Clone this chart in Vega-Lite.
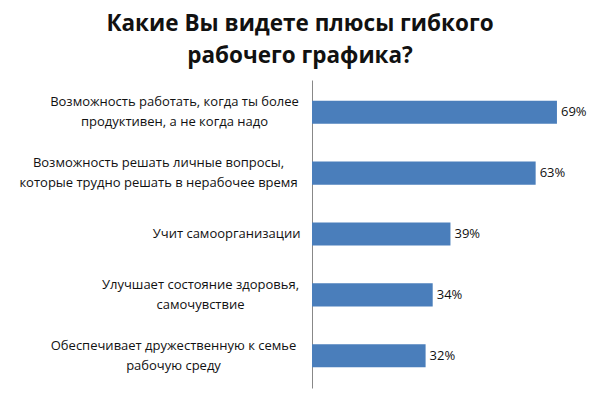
{
  "$schema": "https://vega.github.io/schema/vega-lite/v6.json",
  "width": 284,
  "height": 308,
  "autosize": "none",
  "padding": {"left": 312, "top": 80, "right": 4, "bottom": 9},
  "background": "white",
  "title": {
    "text": ["Какие Вы видете плюсы гибкого", "рабочего графика?"],
    "font": "Open Sans",
    "fontSize": 22.5,
    "fontWeight": "bold",
    "color": "#111111",
    "lineHeight": 32,
    "anchor": "middle",
    "baseline": "alphabetic",
    "dx": -154,
    "dy": 22,
    "offset": 17
  },
  "data": {
    "values": [
      {"reason": "Возможность работать, когда ты более\nпродуктивен, а не когда надо", "share": 0.69},
      {"reason": "Возможность решать личные вопросы,\nкоторые трудно решать в нерабочее время", "share": 0.63},
      {"reason": "Учит самоорганизации", "share": 0.39},
      {"reason": "Улучшает состояние здоровья,\nсамочувствие", "share": 0.34},
      {"reason": "Обеспечивает дружественную к семье\nрабочую среду", "share": 0.32}
    ]
  },
  "encoding": {
    "y": {
      "field": "reason",
      "type": "nominal",
      "sort": null,
      "scale": {"paddingInner": 0.62, "paddingOuter": 0.34},
      "axis": {
        "title": null,
        "domain": true,
        "domainColor": "#888888",
        "ticks": false,
        "grid": false,
        "labelFont": "Open Sans",
        "labelFontSize": 13,
        "labelColor": "#111111",
        "labelLineHeight": 20,
        "labelLimit": 0,
        "labelBaseline": "middle",
        "labelExpr": "split(datum.label, '\\n')",
        "labelAlign": {"expr": "indexof(datum.value, '\\n') >= 0 ? 'center' : 'right'"},
        "labelOffset": {"expr": "indexof(datum.value, '\\n') >= 0 ? -10 : 0"},
        "labelPadding": {"expr": "indexof(datum.value, 'работать') >= 0 ? 138 : indexof(datum.value, 'личные') >= 0 ? 154 : indexof(datum.value, 'здоровья') >= 0 ? 112 : indexof(datum.value, 'семье') >= 0 ? 139 : 12"}
      }
    },
    "x": {
      "field": "share",
      "type": "quantitative",
      "scale": {"domain": [0, 0.8]},
      "axis": null
    }
  },
  "layer": [
    {"mark": {"type": "bar", "color": "#4a7ebb"}},
    {
      "mark": {"type": "text", "align": "left", "dx": 4, "baseline": "middle", "font": "Open Sans", "fontSize": 13, "color": "#111111"},
      "encoding": {"text": {"field": "share", "type": "quantitative", "format": ".0%"}}
    }
  ],
  "config": {"view": {"stroke": null}}
}
